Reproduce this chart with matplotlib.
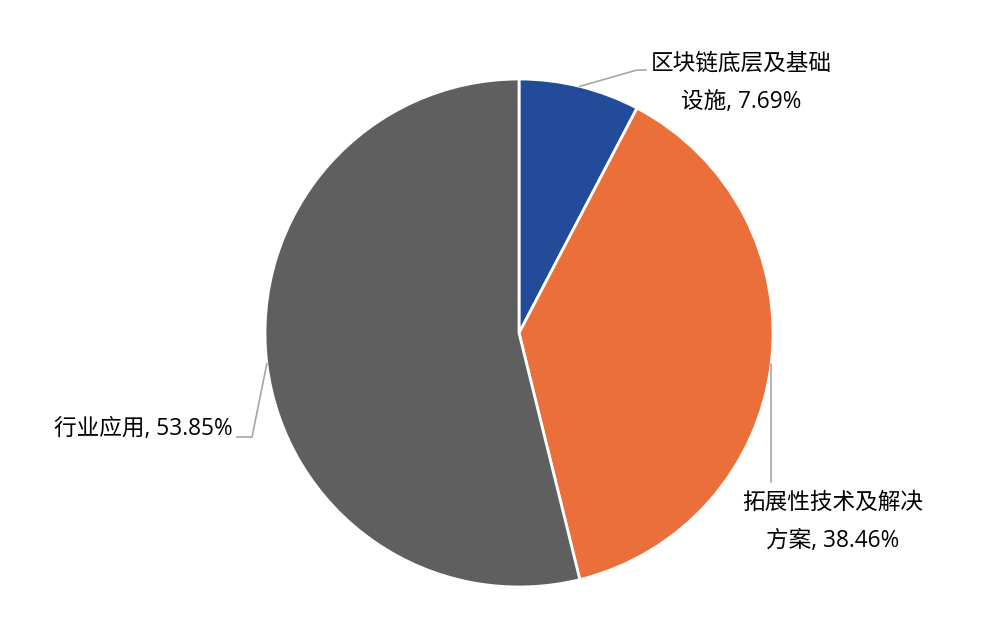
import numpy as np
import matplotlib
matplotlib.use('Agg')
import matplotlib.pyplot as plt

plt.rcParams['font.family'] = ['Open Sans', 'Noto Sans CJK SC', 'DejaVu Sans']

# данные
labels = ['区块链底层及基础\n设施', '拓展性技术及解决\n方案', '行业应用']
values = [7.69, 38.46, 53.85]
colors = ['#224B9A', '#EB6F3A', '#5F5F5F']

W, H = 982, 638
cx, cy, R = 519, 638 - 333, 254

fig = plt.figure(figsize=(W / 100, H / 100), dpi=100)
ax = fig.add_axes([0, 0, 1, 1])

wedges, _ = ax.pie(values, colors=colors, startangle=90, counterclock=False,
                   center=(cx, cy), radius=R, frame=True,
                   wedgeprops=dict(edgecolor='white', linewidth=2))
ax.set_xlim(0, W)
ax.set_ylim(0, H)
ax.set_aspect('equal')
ax.axis('off')

# точки на краю круга (середины секторов)
edge = []
for w in wedges:
    ang = np.deg2rad((w.theta1 + w.theta2) / 2)
    edge.append((cx + R * np.cos(ang), cy + R * np.sin(ang)))

line_kw = dict(color='#A6A6A6', linewidth=1.2)
fs = 16.3

# синий сектор
x0, y0 = edge[0]
ax.plot([x0, 637, 646], [y0, H - 70, H - 70], **line_kw)
ax.text(741, H - 83, labels[0] + ', %.2f%%' % values[0], ha='center', va='center',
        fontsize=fs, linespacing=1.8)

# оранжевый сектор
x1, y1 = edge[1]
ax.plot([x1, x1], [y1, H - 482], **line_kw)
ax.text(833, H - 522, labels[1] + ', %.2f%%' % values[1], ha='center', va='center',
        fontsize=fs, linespacing=1.8)

# серый сектор
x2, y2 = edge[2]
ax.plot([x2, 252, 237], [y2, H - 437, H - 437], **line_kw)
ax.text(233, H - 429, labels[2] + ', %.2f%%' % values[2], ha='right', va='center',
        fontsize=fs)

fig.savefig('out.png', dpi=100, facecolor='white')
